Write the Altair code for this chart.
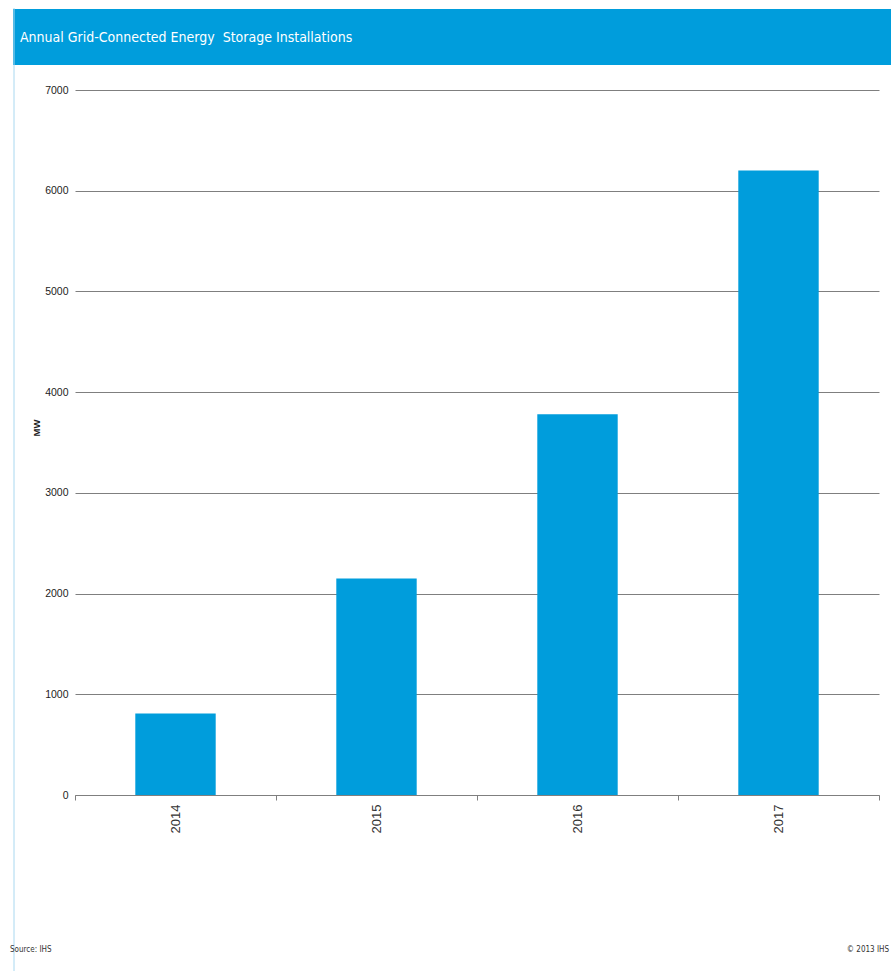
import altair as alt
import pandas as pd

years = ["2014", "2015", "2016", "2017"]
mw_values = [810, 2150, 3780, 6200]
y_ticks = [0, 1000, 2000, 3000, 4000, 5000, 6000, 7000]
band_edges = [0, 1, 2, 3, 4]

title_text = "Annual Grid-Connected Energy\u00a0 Storage Installations"
y_title = "MW"
source_text = "Source: IHS"
copyright_text = "\u00a9 2013 IHS"

BLUE = "#009ddc"
GRID = "#7f7f7f"
FONT = "Liberation Sans"
NARROW = "DejaVu Sans Condensed, Liberation Sans"

df = pd.DataFrame({"year": years, "mw": mw_values})
edges_df = pd.DataFrame({"edge": band_edges})

one = alt.Data(values=[{"k": 0}])

header = alt.Chart(one).mark_rect(color=BLUE).encode(
    x=alt.value(-62), x2=alt.value(816), y=alt.value(-81), y2=alt.value(-25)
)
left_border = alt.Chart(one).mark_rule(color="#a9d8f0", strokeWidth=1).encode(
    x=alt.value(-61), y=alt.value(-82), y2=alt.value(881)
)
title = alt.Chart(one).mark_text(
    color="white", font=NARROW, fontSize=14, align="left", baseline="middle"
).encode(x=alt.value(-55), y=alt.value(-52), text=alt.value(title_text))

ytitle = alt.Chart(one).mark_text(
    color="#222222", font=FONT, fontSize=9.5, fontWeight="bold", angle=270,
    align="center", baseline="middle"
).encode(x=alt.value(-38), y=alt.value(338), text=alt.value(y_title))

source = alt.Chart(one).mark_text(
    color="#333333", font=NARROW, fontSize=8, align="left", baseline="middle"
).encode(x=alt.value(-65), y=alt.value(155 + 705), text=alt.value(source_text))

copyright_ = alt.Chart(one).mark_text(
    color="#333333", font=NARROW, fontSize=8, align="right", baseline="middle"
).encode(x=alt.value(814), y=alt.value(155 + 705), text=alt.value(copyright_text))

bars = alt.Chart(df).mark_bar(color=BLUE).encode(
    x=alt.X(
        "year:N",
        sort=years,
        scale=alt.Scale(paddingInner=0.6, paddingOuter=0.3),
        axis=alt.Axis(
            title=None, orient="bottom", ticks=False, domain=True, domainColor=GRID,
            labelAngle=270, labelFont=FONT, labelFontSize=13, labelColor="#333333",
            labelPadding=9, grid=False,
        ),
    ),
    y=alt.Y(
        "mw:Q",
        scale=alt.Scale(domain=[0, 7000], nice=False),
        axis=alt.Axis(
            title=None, values=y_ticks, format="d", grid=True, gridColor=GRID, gridWidth=1,
            domain=False, ticks=False, labelFont=FONT, labelFontSize=10.5,
            labelColor="#222222", labelPadding=7,
        ),
    ),
)

edge_ticks = alt.Chart(edges_df).mark_point(opacity=0).encode(
    x=alt.X(
        "edge:Q",
        scale=alt.Scale(domain=[0, 4], nice=False, zero=False),
        axis=alt.Axis(
            title=None, orient="bottom", values=band_edges, labels=False,
            domain=False, grid=False, ticks=True, tickSize=5, tickColor=GRID,
        ),
    )
)

chart = (
    alt.layer(header, left_border, title, ytitle, bars, edge_ticks, source, copyright_)
    .resolve_scale(x="independent")
    .properties(
        width=804,
        height=705,
        autosize=alt.AutoSizeParams(type="none"),
        padding={"left": 75, "top": 90, "right": 12, "bottom": 176},
        background="white",
    )
    .configure_view(stroke=None)
)

chart.save("out.html", embed_options={"renderer": "svg", "actions": False})
